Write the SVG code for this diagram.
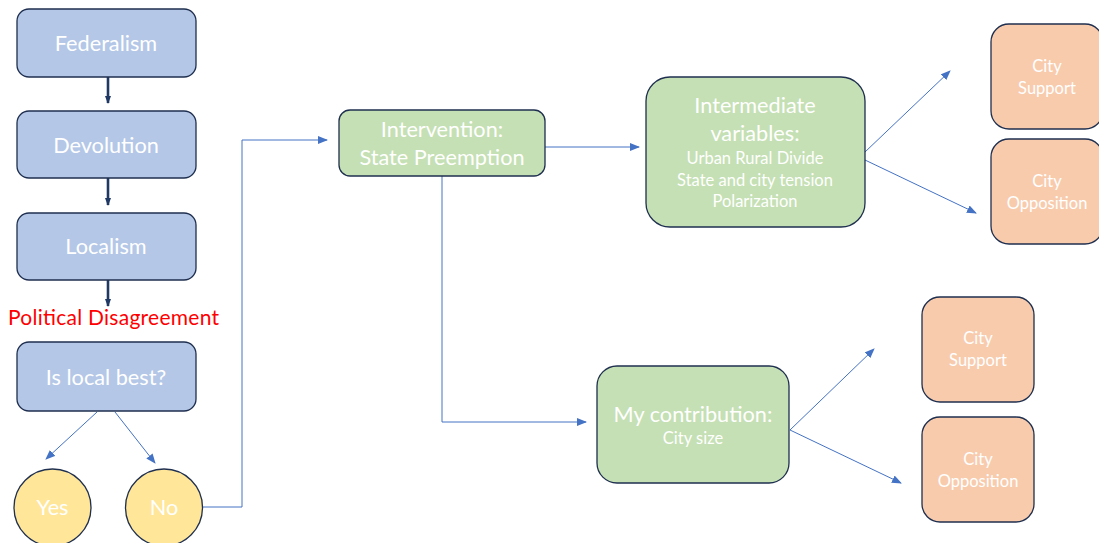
<svg xmlns="http://www.w3.org/2000/svg" width="1099" height="543" viewBox="0 0 1099 543">
<defs>
<marker id="ab" markerUnits="userSpaceOnUse" markerWidth="10" markerHeight="8" refX="9" refY="4" orient="auto">
<path d="M0,0 L10,4 L0,8 Z" fill="#4472C4"/>
</marker>
<marker id="ad" markerUnits="userSpaceOnUse" markerWidth="8" markerHeight="6" refX="7" refY="3" orient="auto">
<path d="M0,0 L8,3 L0,6 Z" fill="#203864"/>
</marker>
<style>
.blue{fill:#B4C7E7;stroke:#1F2F4F;stroke-width:1.3}
.green{fill:#C5E0B4;stroke:#1F2F4F;stroke-width:1.3}
.orange{fill:#F8CBAD;stroke:#1F2F4F;stroke-width:1.3}
.yellow{fill:#FFE699;stroke:#1F2F4F;stroke-width:1.3}
text{font-family:Lato,"Open Sans","Liberation Sans",sans-serif;fill:#FFFFFF;text-anchor:middle}
.big{font-size:21.7px}
.sm{font-size:16.5px}
.red{fill:#FF0000;text-anchor:start;font-size:21px}
.con{fill:none;stroke:#4472C4;stroke-width:1}
.dark{fill:none;stroke:#203864;stroke-width:2.6}
</style>
</defs>
<g id="connectors">
<line class="dark" x1="108" y1="77" x2="108" y2="103" marker-end="url(#ad)"/>
<line class="dark" x1="108" y1="178" x2="108" y2="205" marker-end="url(#ad)"/>
<line class="dark" x1="108" y1="280" x2="108" y2="306" marker-end="url(#ad)"/>
<line class="con" x1="97" y1="412" x2="46" y2="459" marker-end="url(#ab)"/>
<line class="con" x1="115" y1="412" x2="155" y2="463" marker-end="url(#ab)"/>
<polyline class="con" points="202,507 242,507 242,140 327,140" marker-end="url(#ab)"/>
<line class="con" x1="545" y1="147" x2="639" y2="147" marker-end="url(#ab)"/>
<polyline class="con" points="442,176 442,422 586,422" marker-end="url(#ab)"/>
<line class="con" x1="865" y1="152" x2="950" y2="71" marker-end="url(#ab)"/>
<line class="con" x1="865" y1="160" x2="976" y2="213" marker-end="url(#ab)"/>
<line class="con" x1="790" y1="430" x2="874" y2="349" marker-end="url(#ab)"/>
<line class="con" x1="790" y1="430" x2="901" y2="483" marker-end="url(#ab)"/>
</g>
<g id="federalism">
<rect class="blue" x="17" y="9" width="179" height="68" rx="12"/>
<text class="big" x="106" y="51">Federalism</text>
</g>
<g id="devolution">
<rect class="blue" x="17" y="111" width="179" height="67" rx="12"/>
<text class="big" x="106" y="153">Devolution</text>
</g>
<g id="localism">
<rect class="blue" x="17" y="213" width="179" height="67" rx="12"/>
<text class="big" x="106" y="254">Localism</text>
</g>
<g id="political-disagreement">
<text class="red" x="8" y="325" textLength="211">Political Disagreement</text>
</g>
<g id="is-local-best">
<rect class="blue" x="17" y="342" width="179" height="69" rx="12"/>
<text class="big" x="106" y="385">Is local best?</text>
</g>
<g id="yes">
<circle class="yellow" cx="52.5" cy="507.5" r="38.5"/>
<text class="big" x="52.5" y="515">Yes</text>
</g>
<g id="no">
<circle class="yellow" cx="164" cy="507.5" r="38.5"/>
<text class="big" x="164" y="515">No</text>
</g>
<g id="intervention">
<rect class="green" x="339" y="110" width="206" height="66" rx="11"/>
<text class="big" x="442" y="137">Intervention:</text>
<text class="big" x="442" y="165">State Preemption</text>
</g>
<g id="intermediate">
<rect class="green" x="646" y="77" width="219" height="150" rx="24"/>
<text class="big" x="755" y="113">Intermediate</text>
<text class="big" x="755" y="141">variables:</text>
<text class="sm" x="755" y="164">Urban Rural Divide</text>
<text class="sm" x="755" y="186">State and city tension</text>
<text class="sm" x="755" y="207">Polarization</text>
</g>
<g id="my-contribution">
<rect class="green" x="597" y="366" width="192" height="117" rx="20"/>
<text class="big" x="693" y="422">My contribution:</text>
<text class="sm" x="693" y="444">City size</text>
</g>
<g id="city-support-1">
<rect class="orange" x="991" y="24" width="112" height="105" rx="18"/>
<text class="sm" x="1047" y="72">City</text>
<text class="sm" x="1047" y="94">Support</text>
</g>
<g id="city-opposition-1">
<rect class="orange" x="991" y="139" width="112" height="105" rx="18"/>
<text class="sm" x="1047" y="187">City</text>
<text class="sm" x="1047" y="209">Opposition</text>
</g>
<g id="city-support-2">
<rect class="orange" x="922" y="297" width="112" height="105" rx="18"/>
<text class="sm" x="978" y="344">City</text>
<text class="sm" x="978" y="366">Support</text>
</g>
<g id="city-opposition-2">
<rect class="orange" x="922" y="417" width="112" height="105" rx="18"/>
<text class="sm" x="978" y="465">City</text>
<text class="sm" x="978" y="487">Opposition</text>
</g>
</svg>
